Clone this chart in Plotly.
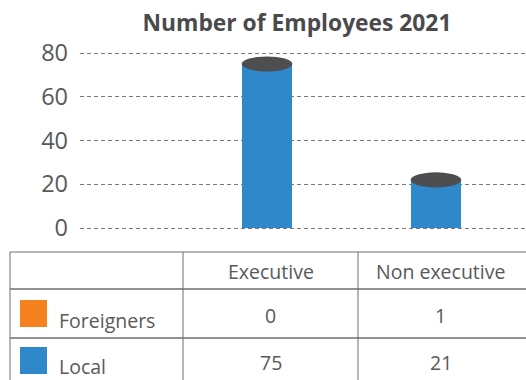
import plotly.graph_objects as go

# Employee counts by category
categories = ["Executive", "Non executive"]
series_names = ["Foreigners", "Local"]
foreigners = [0, 1]
local = [75, 21]
y_ticks = [0, 20, 40, 60, 80]

BLUE = "#2e88c9"
ORANGE = "#f5821f"
TOP = "#4e4e51"
TEXT = "#595959"
GRID = "#7a7a7a"
RULE = "#6e6e6e"
FONT = "Open Sans"

W, H = 526, 380
x_pos = list(range(len(categories)))
bar_w = 0.30


def py(pixel_y):
    """Convert a pixel row (from top) to paper y."""
    return 1 - pixel_y / H


def px(pixel_x):
    return pixel_x / W


fig = go.Figure()

# Stacked cylinder bodies: local at the bottom, foreigners on top
fig.add_trace(go.Bar(x=x_pos, y=local, name=series_names[1], marker_color=BLUE,
                     width=bar_w, marker_line_width=0))
fig.add_trace(go.Bar(x=x_pos, y=foreigners, name=series_names[0], marker_color=ORANGE,
                     width=bar_w, marker_line_width=0))

# Dark elliptical cap on each cylinder, centred on the stack total
cap_h = 6.9
shapes = []
for xi, f, l in zip(x_pos, foreigners, local):
    total = f + l
    shapes.append(dict(type="circle", xref="x", yref="y",
                       x0=xi - bar_w / 2, x1=xi + bar_w / 2,
                       y0=total - cap_h / 2, y1=total + cap_h / 2,
                       fillcolor=TOP, line_width=0, layer="above"))

# ---- Data table below the plot ----
col_edges = [10, 183, 358, 540]          # vertical rules (last one off-canvas)
row_edges = [252, 289, 338, 390]         # horizontal rules (last one off-canvas)

for xe in col_edges[:-1]:
    shapes.append(dict(type="line", xref="paper", yref="paper",
                       x0=px(xe), x1=px(xe), y0=py(row_edges[0]), y1=0,
                       line=dict(color=RULE, width=1)))
for ye in row_edges[:-1]:
    shapes.append(dict(type="line", xref="paper", yref="paper",
                       x0=px(col_edges[0]), x1=1, y0=py(ye), y1=py(ye),
                       line=dict(color=RULE, width=1.3 if ye != row_edges[0] else 1)))

annotations = []
tfont = dict(family=FONT, size=19.5, color=TEXT)
col_mid = [270.5, 440.5]

# header row
for ci, cat in enumerate(categories):
    annotations.append(dict(text=cat, xref="paper", yref="paper",
                            x=px(col_mid[ci]), y=py(271), xanchor="center",
                            yanchor="middle", showarrow=False, font=tfont))

# body rows: swatch + series name, then values
series_vals = [foreigners, local]
swatch_colors = [ORANGE, BLUE]
swatch_top = [300, 347]
label_mid = [320.5, 366.5]
value_mid = [315, 362]
for ri, name in enumerate(series_names):
    shapes.append(dict(type="rect", xref="paper", yref="paper",
                       x0=px(20), x1=px(47),
                       y0=py(swatch_top[ri] + 27), y1=py(swatch_top[ri]),
                       fillcolor=swatch_colors[ri], line_width=0))
    annotations.append(dict(text=name, xref="paper", yref="paper",
                            x=px(57), y=py(label_mid[ri]), xanchor="left", yanchor="middle",
                            showarrow=False, font=tfont))
    for ci, v in enumerate(series_vals[ri]):
        annotations.append(dict(text=str(v), xref="paper", yref="paper",
                                x=px(col_mid[ci]), y=py(value_mid[ri]), xanchor="center",
                                yanchor="middle", showarrow=False, font=tfont))

# plot area padded by a few pixels so the 0 and 80 gridlines are drawn
unit = 175 / 80          # pixels per employee (0 at row 228, 80 at row 53)
pad = 4
fig.update_layout(
    width=W, height=H,
    margin=dict(l=0, r=0, t=0, b=0),
    paper_bgcolor="white", plot_bgcolor="white",
    barmode="stack", showlegend=False,
    shapes=shapes, annotations=annotations,
    title=dict(text="<b>Number of Employees 2021</b>", x=px(297), xanchor="center",
               y=py(23.5), yanchor="middle",
               font=dict(family=FONT, size=22.8, color="#4a4a4d")),
    xaxis=dict(domain=[px(80), 1], range=[-1.107, 1.533], showticklabels=False,
               showgrid=False, zeroline=False, showline=False, fixedrange=True,
               automargin=False),
    yaxis=dict(domain=[py(228 + pad), py(53 - pad)],
               range=[-pad / unit, 80 + pad / unit],
               tickvals=y_ticks, automargin=False,
               showgrid=True, gridcolor=GRID, griddash="4px,3px", gridwidth=1,
               zeroline=False, showline=False, ticklabelstandoff=11,
               tickfont=dict(family=FONT, size=23.5, color=TEXT)),
)

fig.write_html("out.html")
